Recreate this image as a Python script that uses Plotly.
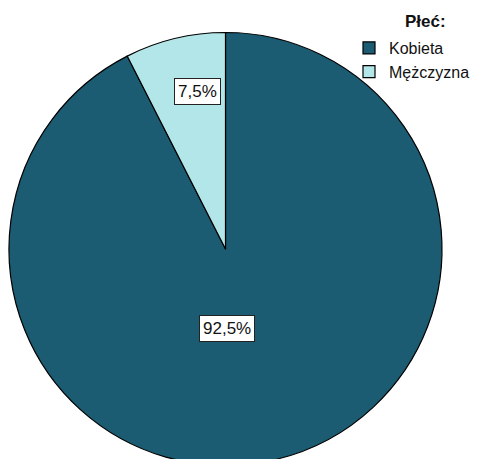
import plotly.graph_objects as go

# ---- data ----
labels = ["Kobieta", "Mężczyzna"]
values = [92.5, 7.5]
value_labels = ["92,5%", "7,5%"]
colors = ["#1B5C73", "#B3E6E8"]
legend_title = "Płeć:"

W, H = 480, 480
# label box centers (pixels)
label_px = [(227, 328.5), (197.5, 91.5)]

fig = go.Figure()
fig.add_trace(go.Pie(
    labels=labels,
    values=values,
    sort=False,
    direction="clockwise",
    rotation=0,
    textinfo="none",
    hoverinfo="label+percent",
    marker=dict(colors=colors, line=dict(color="#000000", width=1.2)),
    domain=dict(x=[9 / W, 442 / W], y=[1 - 465.5 / H, 1 - 32.5 / H]),
))

for txt, (px, py) in zip(value_labels, label_px):
    fig.add_annotation(
        x=px / W, y=1 - py / H, xref="paper", yref="paper",
        text=txt, showarrow=False,
        font=dict(family="Liberation Sans, Arial", size=17, color="#111111"),
        bgcolor="#FFFFFF", bordercolor="#222222", borderwidth=1, borderpad=3,
        xanchor="center", yanchor="middle",
    )

# legend title
fig.add_annotation(
    x=425 / W, y=1 - 22 / H, xref="paper", yref="paper",
    text="<b>" + legend_title + "</b>", showarrow=False,
    font=dict(family="Liberation Sans, Arial", size=17, color="#111111"),
    xanchor="center", yanchor="middle",
)

fig.update_layout(
    width=W, height=H,
    margin=dict(l=0, r=0, t=0, b=0, autoexpand=False),
    paper_bgcolor="#FFFFFF",
    plot_bgcolor="#FFFFFF",
    font=dict(family="Liberation Sans, Arial", size=16, color="#111111"),
    legend=dict(
        x=349 / W, y=1 - 31 / H, xanchor="left", yanchor="top",
        font=dict(size=16),
        bgcolor="rgba(0,0,0,0)",
        tracegroupgap=0,
    ),
    showlegend=True,
)

fig.write_html(
    "out.html",
    config={"displayModeBar": False},
    post_script="document.body.style.margin='0';document.body.style.overflow='hidden';"
                "document.documentElement.style.overflow='hidden';",
)
